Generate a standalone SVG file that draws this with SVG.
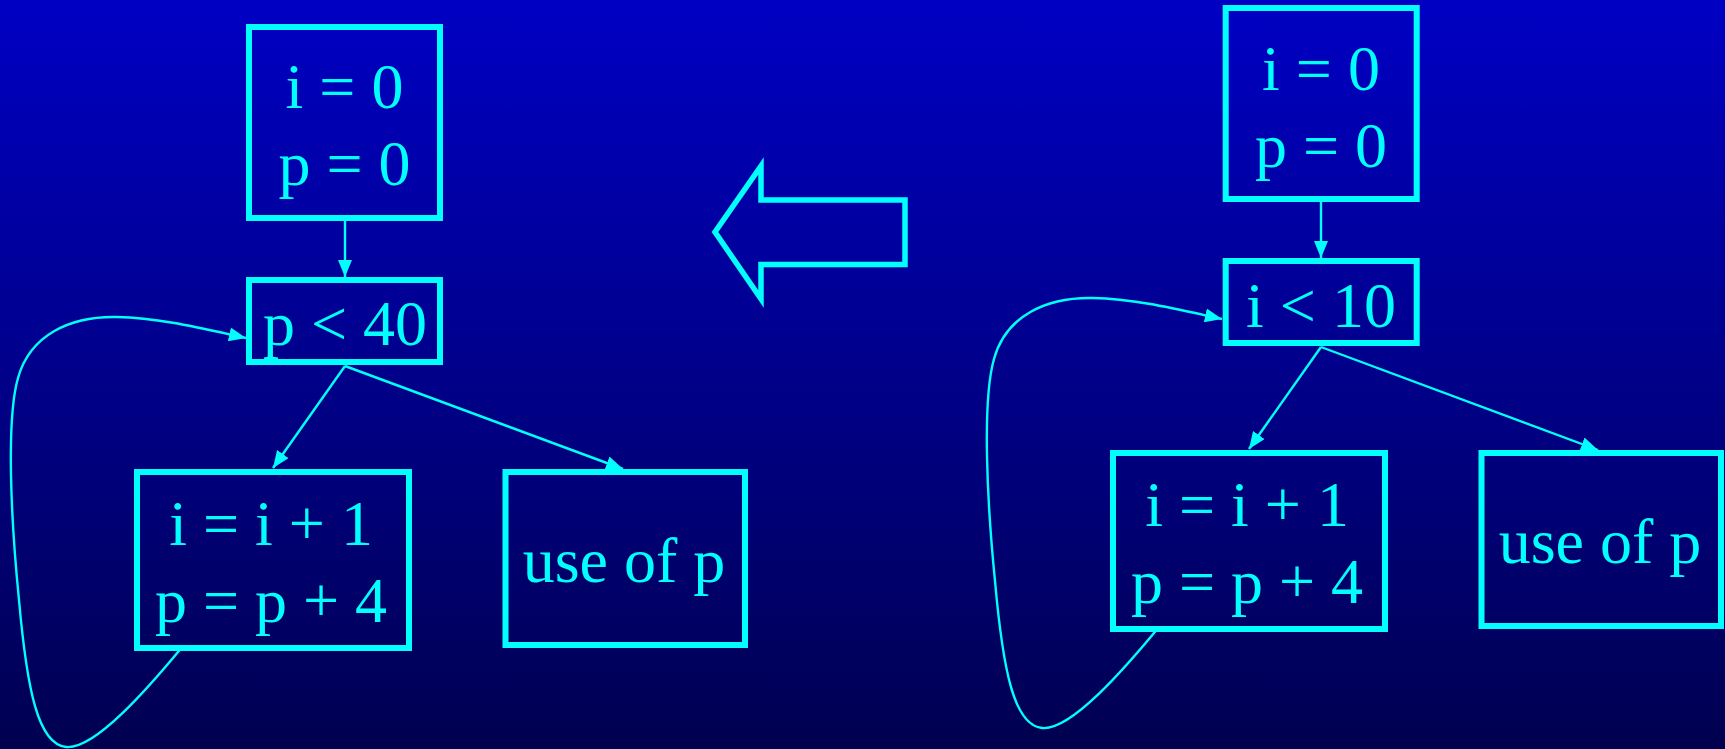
<svg xmlns="http://www.w3.org/2000/svg" width="1725" height="749" viewBox="0 0 1725 749">
<defs>
<linearGradient id="bg" x1="0" y1="0" x2="0" y2="1">
<stop offset="0" stop-color="#0000C4"/>
<stop offset="1" stop-color="#000050"/>
</linearGradient>
<marker id="ah" markerUnits="userSpaceOnUse" viewBox="0 0 17 14" refX="17" refY="7" markerWidth="17" markerHeight="14" orient="auto">
<path d="M0,0 L17,7 L0,14 Z" fill="#00FFFF"/>
</marker>
<style>
.box{fill:none;stroke:#00FFFF;stroke-width:6}
.t{font-family:"Liberation Serif","Times New Roman",serif;font-size:64px;fill:#00FFFF;text-anchor:middle}
.e{fill:none;stroke:#00FFFF;stroke-width:2.4;marker-end:url(#ah)}
.big{fill:none;stroke:#00FFFF;stroke-width:5.5;stroke-linejoin:miter}
</style>
</defs>
<rect x="0" y="0" width="1725" height="749" fill="url(#bg)"/>

<g id="connectors">
<path class="e" d="M345,221 L345,277"/>
<path class="e" d="M345,366 L273,468"/>
<path class="e" d="M345,366 L623,469"/>
<path class="e" d="M183,646 C150,686 95,750 66,747 C38,744 27,690 19,600 C11,520 6,420 18,378 C30,335 70,316 117,317 C160,318 200,328 246,338"/>
<path class="e" d="M1321,202 L1321,258"/>
<path class="e" d="M1321,347 L1249,449"/>
<path class="e" d="M1321,347 L1598,450"/>
<path class="e" d="M1159,627 C1126,667 1071,731 1042,728 C1014,725 1003,671 995,581 C987,501 982,401 994,359 C1006,316 1046,297 1093,298 C1136,299 1176,309 1222,319"/>
</g>

<g id="L_init">
<rect class="box" x="249" y="27" width="191" height="191"/>
<text class="t" x="344.5" y="108">i = 0</text>
<text class="t" x="344.5" y="185">p = 0</text>
</g>
<g id="L_cond">
<rect class="box" x="249" y="280" width="191" height="82"/>
<text class="t" x="345" y="345">p &lt; 40</text>
</g>
<g id="L_body">
<rect class="box" x="137" y="472" width="272" height="176"/>
<text class="t" x="271" y="545">i = i + 1</text>
<text class="t" x="271" y="622">p = p + 4</text>
</g>
<g id="L_use">
<rect class="box" x="505.5" y="472" width="239.5" height="173"/>
<text class="t" x="624" y="582">use of p</text>
</g>

<g id="bigarrow">
<polygon class="big" points="715,232 761,166 761,200 905,200 905,264.5 761,264.5 761,299"/>
</g>

<g id="R_init">
<rect class="box" x="1225.7" y="8" width="191" height="191"/>
<text class="t" x="1321" y="90">i = 0</text>
<text class="t" x="1321" y="167">p = 0</text>
</g>
<g id="R_cond">
<rect class="box" x="1225.7" y="261" width="191" height="82"/>
<text class="t" x="1321" y="327">i &lt; 10</text>
</g>
<g id="R_body">
<rect class="box" x="1113" y="453" width="272" height="176"/>
<text class="t" x="1247" y="526">i = i + 1</text>
<text class="t" x="1247" y="603">p = p + 4</text>
</g>
<g id="R_use">
<rect class="box" x="1481.5" y="453" width="239.5" height="173"/>
<text class="t" x="1600" y="563">use of p</text>
</g>
</svg>
